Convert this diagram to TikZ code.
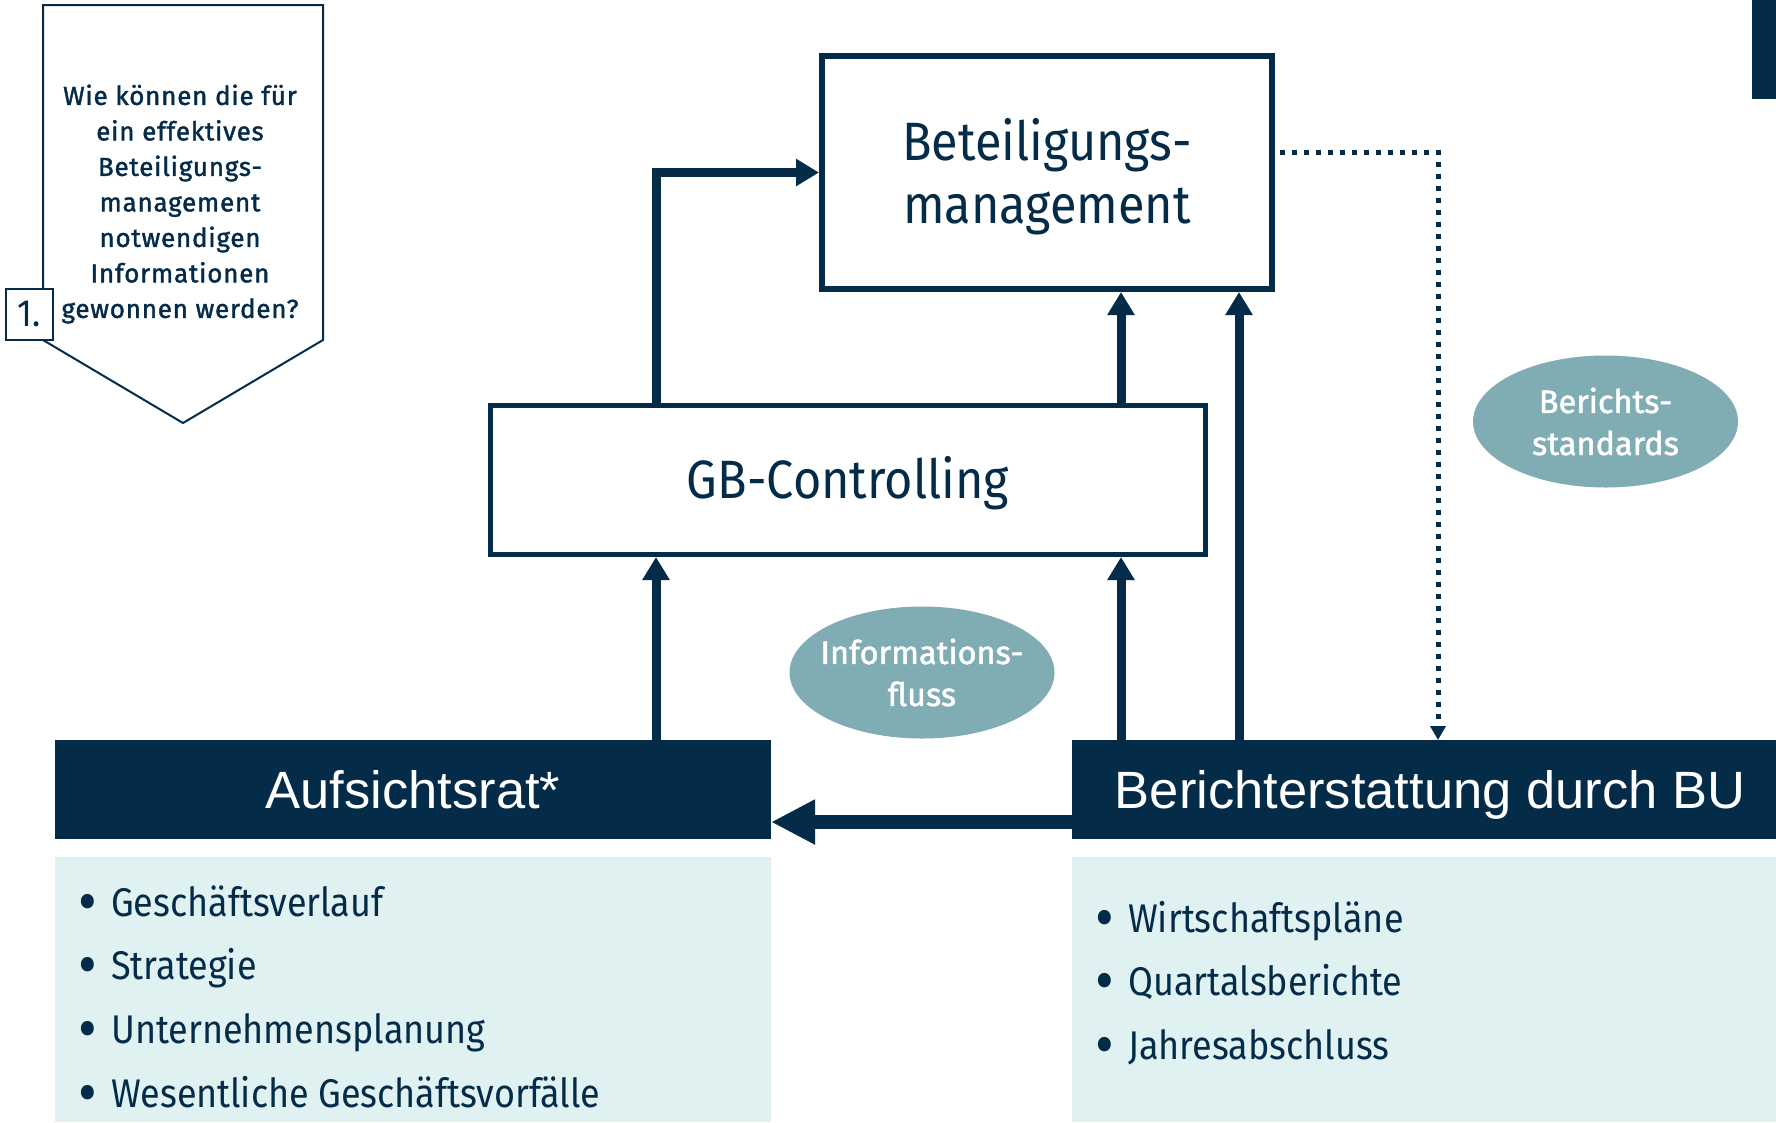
\documentclass[tikz,border=0pt]{standalone}
\usepackage{fontspec}
\setmainfont{Fira Sans}[FakeStretch=0.9]
\newfontfamily\qfont{Fira Sans}[FakeBold=1.5,LetterSpace=3]
\newfontfamily\bubblefont{Fira Sans}[FakeBold=1.5]
\newfontfamily\arialfont{Liberation Sans}
\usetikzlibrary{arrows.meta,positioning,shapes.geometric}
\definecolor{navy}{HTML}{042B48}
\definecolor{bubblecol}{HTML}{80ADB3}
\definecolor{pale}{HTML}{E0F1F2}
\tikzset{
  frame/.style={draw=navy,text=navy,align=center,inner sep=0pt},
  headbar/.style={fill=navy,text=white,inner sep=0pt,outer sep=0pt,text height=37pt,text depth=0pt,font=\arialfont\fontsize{52.5}{60}\selectfont},
  listbg/.style={fill=pale,inner sep=0pt,outer sep=0pt},
  bubble/.style={ellipse,fill=bubblecol,text=white,align=center,inner sep=0pt,minimum width=265pt,minimum height=132pt,font=\bubblefont\fontsize{32.5}{42}\selectfont},
  item/.style={anchor=base west,text=navy,inner sep=0pt,font=\fontsize{40}{48}\selectfont},
  flow/.style={draw=navy,line width=9pt,-{Triangle[length=23pt,width=26pt]}},
  bigflow/.style={draw=navy,line width=14pt,-{Triangle[length=44pt,width=42pt]}},
  dotflow/.style={draw=navy,line width=5pt,dash pattern=on 5pt off 7pt,-{Triangle[length=14pt,width=15pt]}}
}
\newcommand{\listdot}{\makebox[33pt][l]{\raisebox{-7pt}{\scalebox{1.6}{•}}}}
\newcommand{\narrow}[1]{\makebox[150pt]{#1}}
\begin{document}
\begin{tikzpicture}[line join=miter,x=1pt,y=-1pt]
\useasboundingbox (0,0) rectangle (1776,1122);
%% question box top left
\draw[navy,line width=2pt] (43,5) -- (323,5) -- (323,340) -- (183,423) -- (43,340) -- cycle;
\node[text=navy,align=center,font=\qfont\fontsize{26}{35.5}\selectfont] (question) at (180,204)
  {Wie können die für\\ein effektives\\Beteiligungs-\\management\\notwendigen\\Informationen\\gewonnen werden?};
\node[draw=navy,line width=2pt,fill=white,text=navy,inner sep=0pt,minimum width=47pt,minimum height=51pt,font=\fontsize{38}{40}\selectfont] (step1) at (29,314.5) {1.};
\fill[navy] (1752,0) rectangle (1776,99);
%% boxes
\node[frame,line width=6pt,minimum width=450pt,minimum height=233pt,text height=101pt,text depth=0pt,font=\fontsize{54}{63}\selectfont] (bm) at (1047,172.5) {Beteiligungs-\\management};
\node[frame,line width=5pt,minimum width=715pt,minimum height=149pt,text height=37pt,text depth=0pt,font=\fontsize{54}{63}\selectfont] (gb) at (848,480) {GB-Controlling};
\node[headbar,minimum width=716pt,minimum height=99pt] (ar) at (413,789.5) {Aufsichtsrat*};
\node[headbar,minimum width=704pt,minimum height=99pt] (bu) at (1424,789.5) {\hspace*{12pt}Berichterstattung durch BU};
\node[listbg,minimum width=716pt,minimum height=265pt] (arlist) at (413,989.5) {};
\node[listbg,minimum width=704pt,minimum height=265pt] (bulist) at (1424,989.5) {};
\node[bubble] (standards) at (1605.5,421.5) {\narrow{Berichts-}\\\narrow{standards}};
\node[bubble] (infoflow) at (922,672.5) {\narrow{Informations-}\\\narrow{fluss}};
%% lists
\node[item] (ar1) at (78,916) {\listdot Geschäftsverlauf};
\node[item] (ar2) at (78,979) {\listdot Strategie};
\node[item] (ar3) at (78,1043) {\listdot Unternehmensplanung};
\node[item] (ar4) at (78,1107) {\listdot Wesentliche Geschäftsvorfälle};
\node[item] (bu1) at (1095,932) {\listdot Wirtschaftspläne};
\node[item] (bu2) at (1095,995) {\listdot Quartalsberichte};
\node[item] (bu3) at (1095,1059) {\listdot Jahresabschluss};
%% connectors
\coordinate (colA) at (656,0);
\coordinate (colB) at (1121,0);
\coordinate (colC) at (1239,0);
\coordinate (dotcol) at (1438,0);
\coordinate (flowrow) at (0,822);
\draw[flow] (gb.north -| colA) |- (bm.west);
\draw[flow] (gb.north -| colB) -- (bm.south -| colB);
\draw[flow] (bu.north -| colC) -- (bm.south -| colC);
\draw[flow] (bu.north -| colB) -- (gb.south -| colB);
\draw[flow] (ar.north -| colA) -- (gb.south -| colA);
\draw[bigflow] (bu.west |- flowrow) -- (ar.east |- flowrow);
\draw[dotflow] ([xshift=5pt,yshift=20.5pt]bm.east) -| (bu.north -| dotcol);
\end{tikzpicture}
\end{document}
